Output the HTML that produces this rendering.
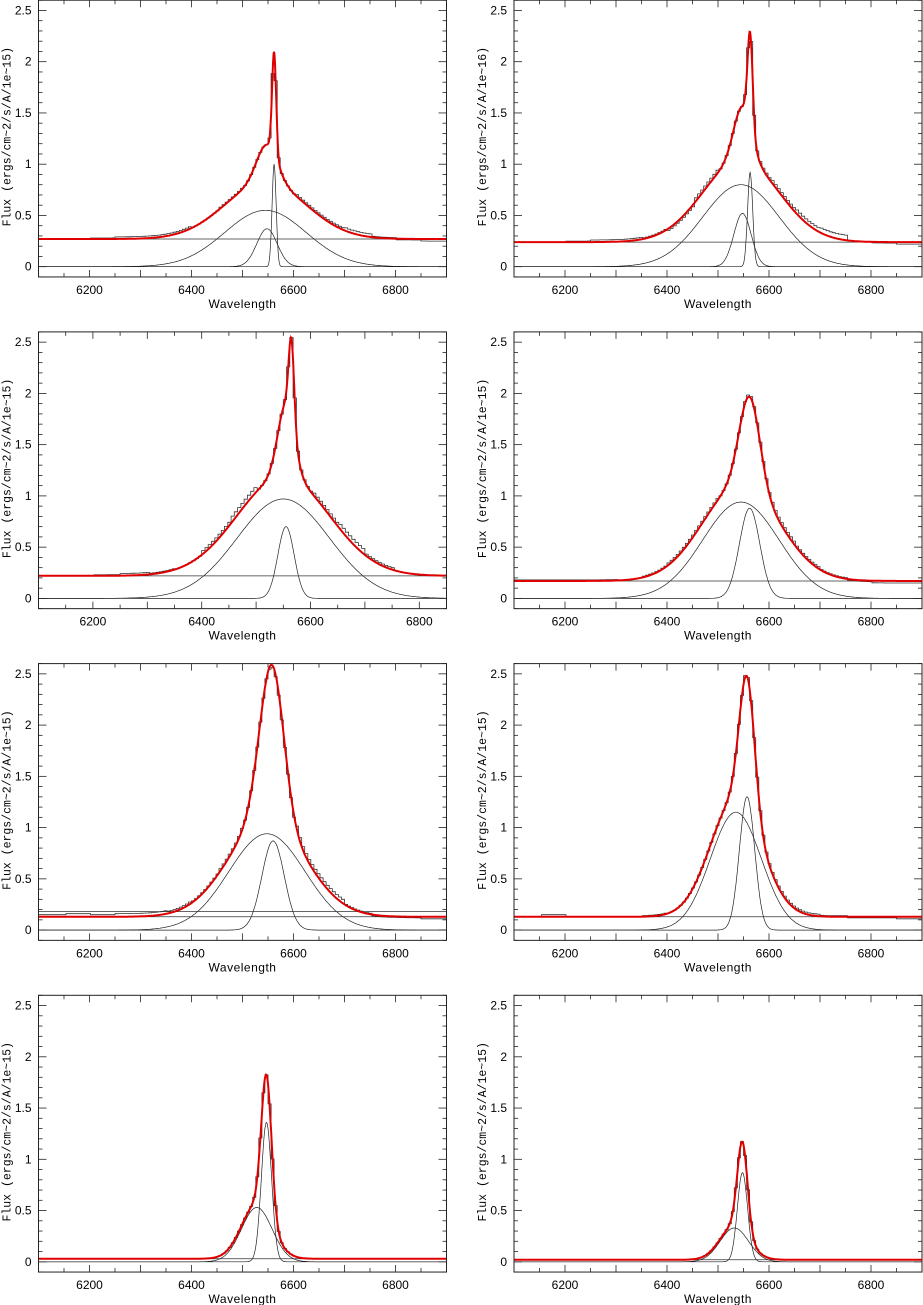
<!DOCTYPE html>
<html><head><meta charset="utf-8">
<style>
html,body{margin:0;padding:0;background:#fff;}
svg{display:block;font-family:"Liberation Sans",sans-serif;}
</style></head>
<body>
<svg id="fig" width="923" height="1305" viewBox="0 0 923 1305" xmlns="http://www.w3.org/2000/svg"></svg>
<script>
// ---- data (per panel) ----
const panelTitles = ["Flux  (ergs/cm~2/s/A/1e~15)","Flux  (ergs/cm~2/s/A/1e~16)","Flux  (ergs/cm~2/s/A/1e~15)","Flux  (ergs/cm~2/s/A/1e~15)","Flux  (ergs/cm~2/s/A/1e~15)","Flux  (ergs/cm~2/s/A/1e~15)","Flux  (ergs/cm~2/s/A/1e~15)","Flux  (ergs/cm~2/s/A/1e~15)"];
const xRanges = [[6100,6900],[6100,6900],[6100,6850],[6100,6900],[6100,6900],[6100,6900],[6100,6900],[6100,6900]];
const xTicks = [6200,6400,6600,6800];
const yTicks = [0,0.5,1,1.5,2,2.5];
const yTickLabels = ["0","0.5","1","1.5","2","2.5"];
const continuum = [0.27,0.24,0.22,0.17,0.13,0.13,0.03,0.02];
const extraLine = [null,null,null,null,0.18,null,null,null];
// components: [center, amplitude, sigma, drawn(1/0)]
const comps1 = [[6545,0.55,80,1],[6548,0.37,20,1],[6562,1.0,4,1]];
const comps2 = [[6545,0.8,75,1],[6548,0.52,17,1],[6563,0.92,5,1]];
const comps3 = [[6550,0.97,85,1],[6555,0.7,15,1],[6565,0.8,5,0]];
const comps4 = [[6545,0.94,75,1],[6562,0.88,20,1]];
const comps5 = [[6548,0.94,75,1],[6560,0.87,22,1],[6553,0.67,25,0]];
const comps6 = [[6535,1.15,50,1],[6557,1.30,15,1]];
const comps7 = [[6528,0.53,30,1],[6547,1.36,10,1]];
const comps8 = [[6532,0.33,28,1],[6548,0.87,10,1]];
const components = [comps1,comps2,comps3,comps4,comps5,comps6,comps7,comps8];
// residuals (data - fit) per 50 A bin starting at 6100
const resid1 = [0,0,0.01,0.02,0.02,0.02,0,0.01,0,0,0.02,0.02,0.03,0.01,-0.01,-0.02,-0.03];
const resid2 = [0,0,0.01,0.02,0.02,0.01,-0.02,0.03,0,0.02,0.03,0.04,0.05,0,-0.01,-0.02,-0.03];
const resid3 = [0,0,0.01,0.02,0.01,0,0.03,0.05,0,0.01,0.03,0.05,0.02,0,0,0];
const resid4 = [0.01,0.01,0.01,0.01,0,0.01,0.02,0.02,0,0.02,0.03,0.02,0.01,-0.01,-0.02,-0.02,-0.03];
const resid5 = [0.02,0.03,0.02,0.03,0.03,0.02,0.01,0.02,0,-0.02,0.04,0.04,0.01,-0.01,-0.01,-0.02,-0.02];
const resid6 = [0,0.02,0,0,0,0.01,0,0,0,0.02,0.02,0.02,0.01,-0.01,-0.01,-0.02,-0.02];
const resid7 = [0,0,0,0,0,0,0,0,0,0,0,0,0,0,0,0,0];
const resid8 = [0,0,0,0,0,0,0,0,0,0,0,0,0,0,0,0,0];
const residuals = [resid1,resid2,resid3,resid4,resid5,resid6,resid7,resid8];

const NS="http://www.w3.org/2000/svg";
const svg=document.getElementById('fig');
function mk(tag,attrs,parent){const e=document.createElementNS(NS,tag);for(const k in attrs)e.setAttribute(k,attrs[k]);(parent||svg).appendChild(e);return e;}

for(let p=0;p<8;p++){
  const col=p%2,row=Math.floor(p/2);
  const L=col?514:38.5,R=col?922:446.5;
  const y0=266.7+row*331.7,sy=102.5;
  const [xa,xb]=xRanges[p];
  const X=v=>L+(v-xa)/(xb-xa)*(R-L);
  const Y=v=>y0-v*sy;
  const T=Y(2.6),B=Y(-0.1);
  const g=mk('g',{});
  
  
  const C=continuum[p],cs=components[p],rs=residuals[p];
  const gauss=(c,x)=>c[1]*Math.exp(-Math.pow(x-c[0],2)/(2*c[2]*c[2]));
  const fit=x=>C+cs.reduce((s,c)=>s+gauss(c,x),0);
  const clip='c'+p;
  const cp=mk('clipPath',{id:clip},g);mk('rect',{x:L,y:T,width:R-L,height:B-T},cp);
  const pg=mk('g',{'clip-path':'url(#'+clip+')'},g);
  // data histogram
  let d='';const step=6;
  for(let x=xa;x<xb;x+=step){
    const bi=Math.min(rs.length-1,Math.floor((x-xa)/50));
    const v=fit(x+step/2)+rs[bi];
    d+=(x===xa?'M':'L')+X(x).toFixed(1)+','+Y(v).toFixed(1)+'L'+X(x+step).toFixed(1)+','+Y(v).toFixed(1);
  }
  const dp=mk('path',{d:d,fill:'none',stroke:'#333','stroke-width':0.8},pg);
  
  
  // components
  cs.forEach((c,i)=>{if(!c[3])return;let s='';for(let x=xa;x<=xb;x+=1){s+=(x===xa?'M':'L')+X(x).toFixed(1)+','+Y(gauss(c,x)).toFixed(1);}
    const cpth=mk('path',{d:s,fill:'none',stroke:'#222','stroke-width':0.7},pg);
    
    });
  const cl=mk('line',{x1:L,x2:R,y1:Y(C),y2:Y(C),stroke:'#333','stroke-width':0.8},pg);
  
  
  if(extraLine[p]!==null){const el=mk('line',{x1:L,x2:R,y1:Y(extraLine[p]),y2:Y(extraLine[p]),stroke:'#333','stroke-width':0.8},pg);
    
    }
  let f='';for(let x=xa;x<=xb;x+=1){f+=(x===xa?'M':'L')+X(x).toFixed(1)+','+Y(fit(x)).toFixed(1);}
  const fp=mk('path',{d:f,fill:'none',stroke:'#e00000','stroke-width':2},pg);
  
  
  // frame
  mk('rect',{x:L,y:T,width:R-L,height:B-T,fill:'none',stroke:'#222','stroke-width':1},g);
  // x ticks
  for(let v=xa;v<=xb;v+=50){const maj=v%100===0;const len=maj?7:4;
    mk('line',{x1:X(v),x2:X(v),y1:B,y2:B-len,stroke:'#222','stroke-width':0.8},g);
    mk('line',{x1:X(v),x2:X(v),y1:T,y2:T+len,stroke:'#222','stroke-width':0.8},g);}
  xTicks.forEach(v=>{const t=mk('text',{x:X(v),y:B+17,'text-anchor':'middle','font-size':12,fill:'#000'},g);t.textContent=v;
    });
  for(let k=-1;k<=26;k++){const v=k/10;const maj=k%5===0;const len=maj?8:4;
    mk('line',{x1:L,x2:L+len,y1:Y(v),y2:Y(v),stroke:'#222','stroke-width':0.8},g);
    mk('line',{x1:R,x2:R-len,y1:Y(v),y2:Y(v),stroke:'#222','stroke-width':0.8},g);}
  yTicks.forEach((v,i)=>{const t=mk('text',{x:L-7,y:Y(v)+4,'text-anchor':'end','font-size':12,fill:'#000'},g);t.textContent=yTickLabels[i];
    });
  const xt=mk('text',{x:(L+R)/2,y:B+31,'text-anchor':'middle','font-size':12,fill:'#000','letter-spacing':'0.5'},g);xt.textContent='Wavelength';
  
  const yx=L-28,yy=y0-130;
  const yt=mk('text',{x:yx,y:yy,'text-anchor':'middle','font-size':11.5,fill:'#000','font-family':'Liberation Mono, monospace',transform:'rotate(-90 '+yx+' '+yy+')'},g);yt.textContent=panelTitles[p];
  
}
</script>
</body></html>
